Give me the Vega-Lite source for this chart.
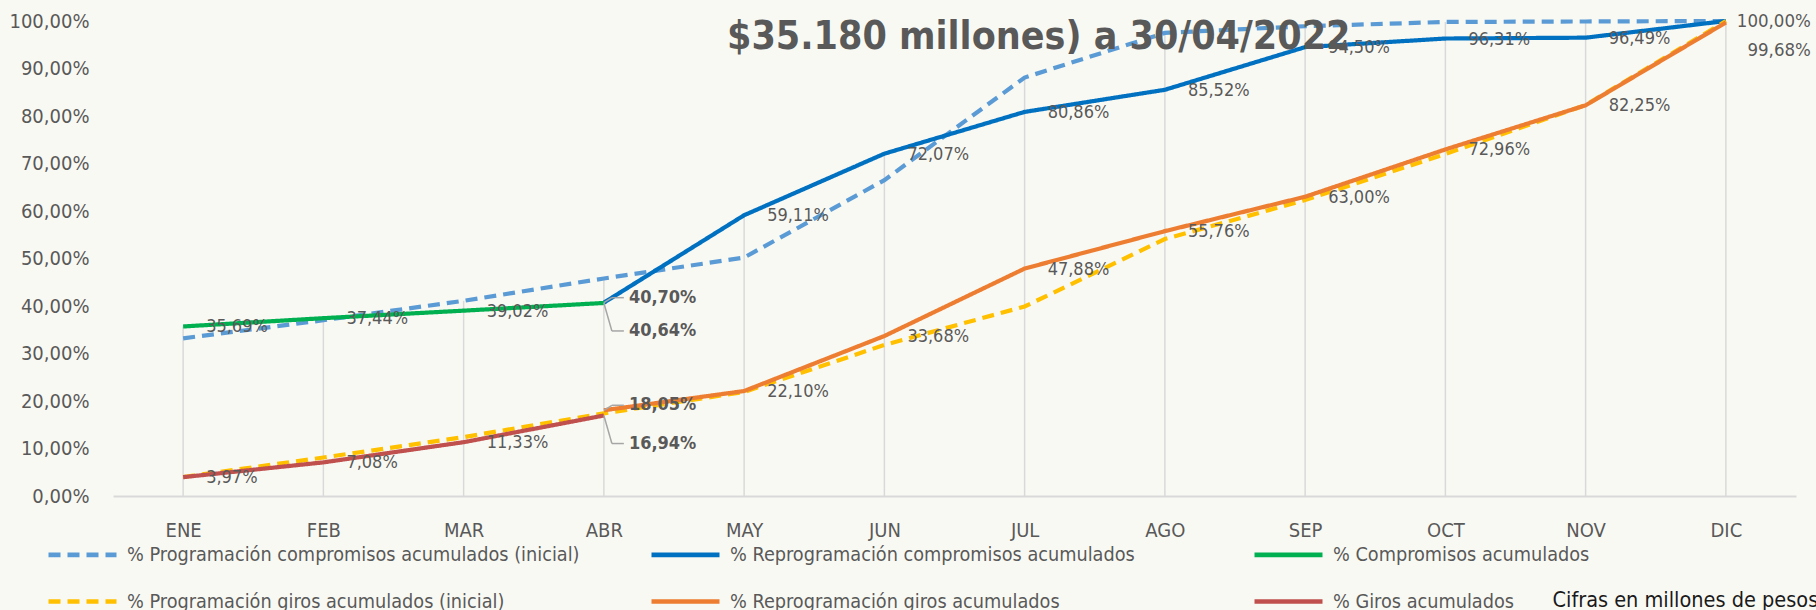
{
  "$schema": "https://vega.github.io/schema/vega-lite/v6.json",
  "width": 1683,
  "height": 475,
  "autosize": {"type": "none"},
  "padding": {"left": 113, "top": 21, "right": 20, "bottom": 114},
  "background": "#F9F9F4",
  "title": {
    "text": "$35.180 millones) a 30/04/2022",
    "anchor": "start",
    "frame": "group",
    "dx": 614,
    "offset": -77,
    "baseline": "alphabetic",
    "fontSize": 39,
    "fontWeight": "bold",
    "color": "#595959"
  },
  "data": {
    "values": [
      {"mes": "ENE", "serie": "% Programación compromisos acumulados (inicial)", "valor": 0.332},
      {"mes": "FEB", "serie": "% Programación compromisos acumulados (inicial)", "valor": 0.370},
      {"mes": "MAR", "serie": "% Programación compromisos acumulados (inicial)", "valor": 0.411},
      {"mes": "ABR", "serie": "% Programación compromisos acumulados (inicial)", "valor": 0.458},
      {"mes": "MAY", "serie": "% Programación compromisos acumulados (inicial)", "valor": 0.502},
      {"mes": "JUN", "serie": "% Programación compromisos acumulados (inicial)", "valor": 0.665},
      {"mes": "JUL", "serie": "% Programación compromisos acumulados (inicial)", "valor": 0.881},
      {"mes": "AGO", "serie": "% Programación compromisos acumulados (inicial)", "valor": 0.975},
      {"mes": "SEP", "serie": "% Programación compromisos acumulados (inicial)", "valor": 0.989},
      {"mes": "OCT", "serie": "% Programación compromisos acumulados (inicial)", "valor": 0.998},
      {"mes": "NOV", "serie": "% Programación compromisos acumulados (inicial)", "valor": 0.999},
      {"mes": "DIC", "serie": "% Programación compromisos acumulados (inicial)", "valor": 1.0},
      {"mes": "ABR", "serie": "% Reprogramación compromisos acumulados", "valor": 0.4070},
      {"mes": "MAY", "serie": "% Reprogramación compromisos acumulados", "valor": 0.5911},
      {"mes": "JUN", "serie": "% Reprogramación compromisos acumulados", "valor": 0.7207},
      {"mes": "JUL", "serie": "% Reprogramación compromisos acumulados", "valor": 0.8086},
      {"mes": "AGO", "serie": "% Reprogramación compromisos acumulados", "valor": 0.8552},
      {"mes": "SEP", "serie": "% Reprogramación compromisos acumulados", "valor": 0.9450},
      {"mes": "OCT", "serie": "% Reprogramación compromisos acumulados", "valor": 0.9631},
      {"mes": "NOV", "serie": "% Reprogramación compromisos acumulados", "valor": 0.9649},
      {"mes": "DIC", "serie": "% Reprogramación compromisos acumulados", "valor": 1.0},
      {"mes": "ENE", "serie": "% Compromisos acumulados", "valor": 0.3569},
      {"mes": "FEB", "serie": "% Compromisos acumulados", "valor": 0.3744},
      {"mes": "MAR", "serie": "% Compromisos acumulados", "valor": 0.3902},
      {"mes": "ABR", "serie": "% Compromisos acumulados", "valor": 0.4064},
      {"mes": "ENE", "serie": "% Programación giros acumulados (inicial)", "valor": 0.040},
      {"mes": "FEB", "serie": "% Programación giros acumulados (inicial)", "valor": 0.081},
      {"mes": "MAR", "serie": "% Programación giros acumulados (inicial)", "valor": 0.124},
      {"mes": "ABR", "serie": "% Programación giros acumulados (inicial)", "valor": 0.174},
      {"mes": "MAY", "serie": "% Programación giros acumulados (inicial)", "valor": 0.219},
      {"mes": "JUN", "serie": "% Programación giros acumulados (inicial)", "valor": 0.318},
      {"mes": "JUL", "serie": "% Programación giros acumulados (inicial)", "valor": 0.399},
      {"mes": "AGO", "serie": "% Programación giros acumulados (inicial)", "valor": 0.541},
      {"mes": "SEP", "serie": "% Programación giros acumulados (inicial)", "valor": 0.623},
      {"mes": "OCT", "serie": "% Programación giros acumulados (inicial)", "valor": 0.720},
      {"mes": "NOV", "serie": "% Programación giros acumulados (inicial)", "valor": 0.823},
      {"mes": "DIC", "serie": "% Programación giros acumulados (inicial)", "valor": 1.0},
      {"mes": "ABR", "serie": "% Reprogramación giros acumulados", "valor": 0.1805},
      {"mes": "MAY", "serie": "% Reprogramación giros acumulados", "valor": 0.2210},
      {"mes": "JUN", "serie": "% Reprogramación giros acumulados", "valor": 0.3368},
      {"mes": "JUL", "serie": "% Reprogramación giros acumulados", "valor": 0.4788},
      {"mes": "AGO", "serie": "% Reprogramación giros acumulados", "valor": 0.5576},
      {"mes": "SEP", "serie": "% Reprogramación giros acumulados", "valor": 0.6300},
      {"mes": "OCT", "serie": "% Reprogramación giros acumulados", "valor": 0.7296},
      {"mes": "NOV", "serie": "% Reprogramación giros acumulados", "valor": 0.8225},
      {"mes": "DIC", "serie": "% Reprogramación giros acumulados", "valor": 0.9968},
      {"mes": "ENE", "serie": "% Giros acumulados", "valor": 0.0397},
      {"mes": "FEB", "serie": "% Giros acumulados", "valor": 0.0708},
      {"mes": "MAR", "serie": "% Giros acumulados", "valor": 0.1133},
      {"mes": "ABR", "serie": "% Giros acumulados", "valor": 0.1694}
    ]
  },
  "encoding": {
    "x": {
      "field": "mes",
      "type": "ordinal",
      "sort": ["ENE", "FEB", "MAR", "ABR", "MAY", "JUN", "JUL", "AGO", "SEP", "OCT", "NOV", "DIC"],
      "scale": {"type": "point", "padding": 0.5},
      "axis": {
        "title": "Cifras en millones de pesos",
        "titleX": 1439,
        "titleY": 110,
        "titleAlign": "left",
        "titleAnchor": null,
        "titleBaseline": "alphabetic",
        "titleFontSize": 21.5,
        "titleFontWeight": "normal",
        "titleColor": "#1A1A1A",
        "labelAngle": 0,
        "labelFontSize": 20,
        "labelColor": "#595959",
        "labelPadding": 24,
        "ticks": false,
        "tickSize": 0,
        "grid": false,
        "domainColor": "#D9D9D9",
        "domainWidth": 2
      }
    },
    "y": {
      "field": "valor",
      "type": "quantitative",
      "scale": {"domain": [0, 1], "nice": false},
      "axis": {
        "title": null,
        "values": [0, 0.1, 0.2, 0.3, 0.4, 0.5, 0.6, 0.7, 0.8, 0.9, 1.0],
        "format": ".2%",
        "labelFontSize": 20,
        "labelColor": "#595959",
        "labelPadding": 24,
        "ticks": false,
        "tickSize": 0,
        "domain": false,
        "grid": false
      }
    }
  },
  "layer": [
    {
      "mark": {"type": "rule", "color": "#D9D9D9", "strokeWidth": 1.5},
      "encoding": {
        "x": {"field": "mes", "type": "ordinal", "sort": ["ENE", "FEB", "MAR", "ABR", "MAY", "JUN", "JUL", "AGO", "SEP", "OCT", "NOV", "DIC"]},
        "y": {"aggregate": "max", "field": "valor", "type": "quantitative"},
        "y2": {"datum": 0}
      }
    },
    {
      "mark": {"type": "line", "strokeWidth": 4.2},
      "encoding": {
        "color": {
          "field": "serie",
          "type": "nominal",
          "scale": {
            "domain": ["% Programación compromisos acumulados (inicial)", "% Programación giros acumulados (inicial)", "% Reprogramación compromisos acumulados", "% Reprogramación giros acumulados", "% Compromisos acumulados", "% Giros acumulados"],
            "range": ["#5B9BD5", "#FFC000", "#0070C0", "#ED7D31", "#00B050", "#C0504D"]
          },
          "legend": {
            "title": null,
            "orient": "none",
            "legendX": -67,
            "legendY": 497,
            "columns": 3,
            "gridAlign": "all",
            "columnPadding": 62,
            "rowPadding": -31,
            "padding": 0,
            "symbolSize": 4624,
            "symbolStrokeWidth": 4.7,
            "labelFontSize": 19.7,
            "labelColor": "#595959",
            "labelOffset": 8,
            "labelLimit": 0
          }
        },
        "strokeDash": {
          "field": "serie",
          "type": "nominal",
          "scale": {
            "domain": ["% Programación compromisos acumulados (inicial)", "% Programación giros acumulados (inicial)", "% Reprogramación compromisos acumulados", "% Reprogramación giros acumulados", "% Compromisos acumulados", "% Giros acumulados"],
            "range": [[12, 7], [12, 7], [1, 0], [1, 0], [1, 0], [1, 0]]
          },
          "legend": {
            "title": null,
            "orient": "none",
            "legendX": -67,
            "legendY": 497,
            "columns": 3,
            "gridAlign": "all",
            "columnPadding": 62,
            "rowPadding": -31,
            "padding": 0,
            "symbolSize": 4624,
            "symbolStrokeWidth": 4.7,
            "labelFontSize": 19.7,
            "labelColor": "#595959",
            "labelOffset": 8,
            "labelLimit": 0
          }
        }
      }
    },
    {
      "transform": [
        {"filter": {"field": "mes", "equal": "ABR"}},
        {"filter": {"field": "serie", "oneOf": ["% Reprogramación compromisos acumulados", "% Reprogramación giros acumulados"]}}
      ],
      "mark": {"type": "rule", "color": "#A6A6A6", "strokeWidth": 1.5, "x2Offset": 8, "y2Offset": -5},
      "encoding": {"x2": {"field": "mes"}, "y2": {"field": "valor"}}
    },
    {
      "transform": [
        {"filter": {"field": "mes", "equal": "ABR"}},
        {"filter": {"field": "serie", "oneOf": ["% Reprogramación compromisos acumulados", "% Reprogramación giros acumulados"]}}
      ],
      "mark": {"type": "rule", "color": "#A6A6A6", "strokeWidth": 1.5, "xOffset": 8, "x2Offset": 20, "yOffset": -5, "y2Offset": -5},
      "encoding": {"x2": {"field": "mes"}, "y2": {"field": "valor"}}
    },
    {
      "transform": [
        {"filter": {"field": "mes", "equal": "ABR"}},
        {"filter": {"field": "serie", "oneOf": ["% Compromisos acumulados", "% Giros acumulados"]}}
      ],
      "mark": {"type": "rule", "color": "#A6A6A6", "strokeWidth": 1.5, "x2Offset": 8, "y2Offset": 28},
      "encoding": {"x2": {"field": "mes"}, "y2": {"field": "valor"}}
    },
    {
      "transform": [
        {"filter": {"field": "mes", "equal": "ABR"}},
        {"filter": {"field": "serie", "oneOf": ["% Compromisos acumulados", "% Giros acumulados"]}}
      ],
      "mark": {"type": "rule", "color": "#A6A6A6", "strokeWidth": 1.5, "xOffset": 8, "x2Offset": 20, "yOffset": 28, "y2Offset": 28},
      "encoding": {"x2": {"field": "mes"}, "y2": {"field": "valor"}}
    },
    {
      "transform": [
        {"filter": {"field": "serie", "oneOf": ["% Reprogramación compromisos acumulados", "% Compromisos acumulados", "% Reprogramación giros acumulados", "% Giros acumulados"]}},
        {"filter": {"not": {"field": "mes", "oneOf": ["ABR", "DIC"]}}}
      ],
      "mark": {"type": "text", "align": "left", "baseline": "middle", "dx": 23, "dy": 1, "fontSize": 18, "color": "#595959"},
      "encoding": {"text": {"field": "valor", "type": "quantitative", "format": ".2%"}}
    },
    {
      "transform": [
        {"filter": {"field": "mes", "equal": "ABR"}},
        {"filter": {"field": "serie", "oneOf": ["% Reprogramación compromisos acumulados", "% Reprogramación giros acumulados"]}}
      ],
      "mark": {"type": "text", "align": "left", "baseline": "middle", "dx": 25, "dy": -5, "fontSize": 18, "fontWeight": "bold", "color": "#595959"},
      "encoding": {"text": {"field": "valor", "type": "quantitative", "format": ".2%"}}
    },
    {
      "transform": [
        {"filter": {"field": "mes", "equal": "ABR"}},
        {"filter": {"field": "serie", "oneOf": ["% Compromisos acumulados", "% Giros acumulados"]}}
      ],
      "mark": {"type": "text", "align": "left", "baseline": "middle", "dx": 25, "dy": 28, "fontSize": 18, "fontWeight": "bold", "color": "#595959"},
      "encoding": {"text": {"field": "valor", "type": "quantitative", "format": ".2%"}}
    },
    {
      "transform": [
        {"filter": {"field": "mes", "equal": "DIC"}},
        {"filter": {"field": "serie", "equal": "% Reprogramación compromisos acumulados"}}
      ],
      "mark": {"type": "text", "align": "right", "baseline": "middle", "dx": 85, "dy": 0, "fontSize": 18.5, "color": "#595959"},
      "encoding": {"text": {"field": "valor", "type": "quantitative", "format": ".2%"}}
    },
    {
      "transform": [
        {"filter": {"field": "mes", "equal": "DIC"}},
        {"filter": {"field": "serie", "equal": "% Reprogramación giros acumulados"}}
      ],
      "mark": {"type": "text", "align": "right", "baseline": "middle", "dx": 85, "dy": 27, "fontSize": 18.5, "color": "#595959"},
      "encoding": {"text": {"field": "valor", "type": "quantitative", "format": ".2%"}}
    }
  ],
  "config": {
    "font": "DejaVu Sans Condensed",
    "view": {"stroke": null},
    "locale": {
      "number": {"decimal": ",", "thousands": ".", "grouping": [3], "currency": ["$", ""]}
    }
  }
}
